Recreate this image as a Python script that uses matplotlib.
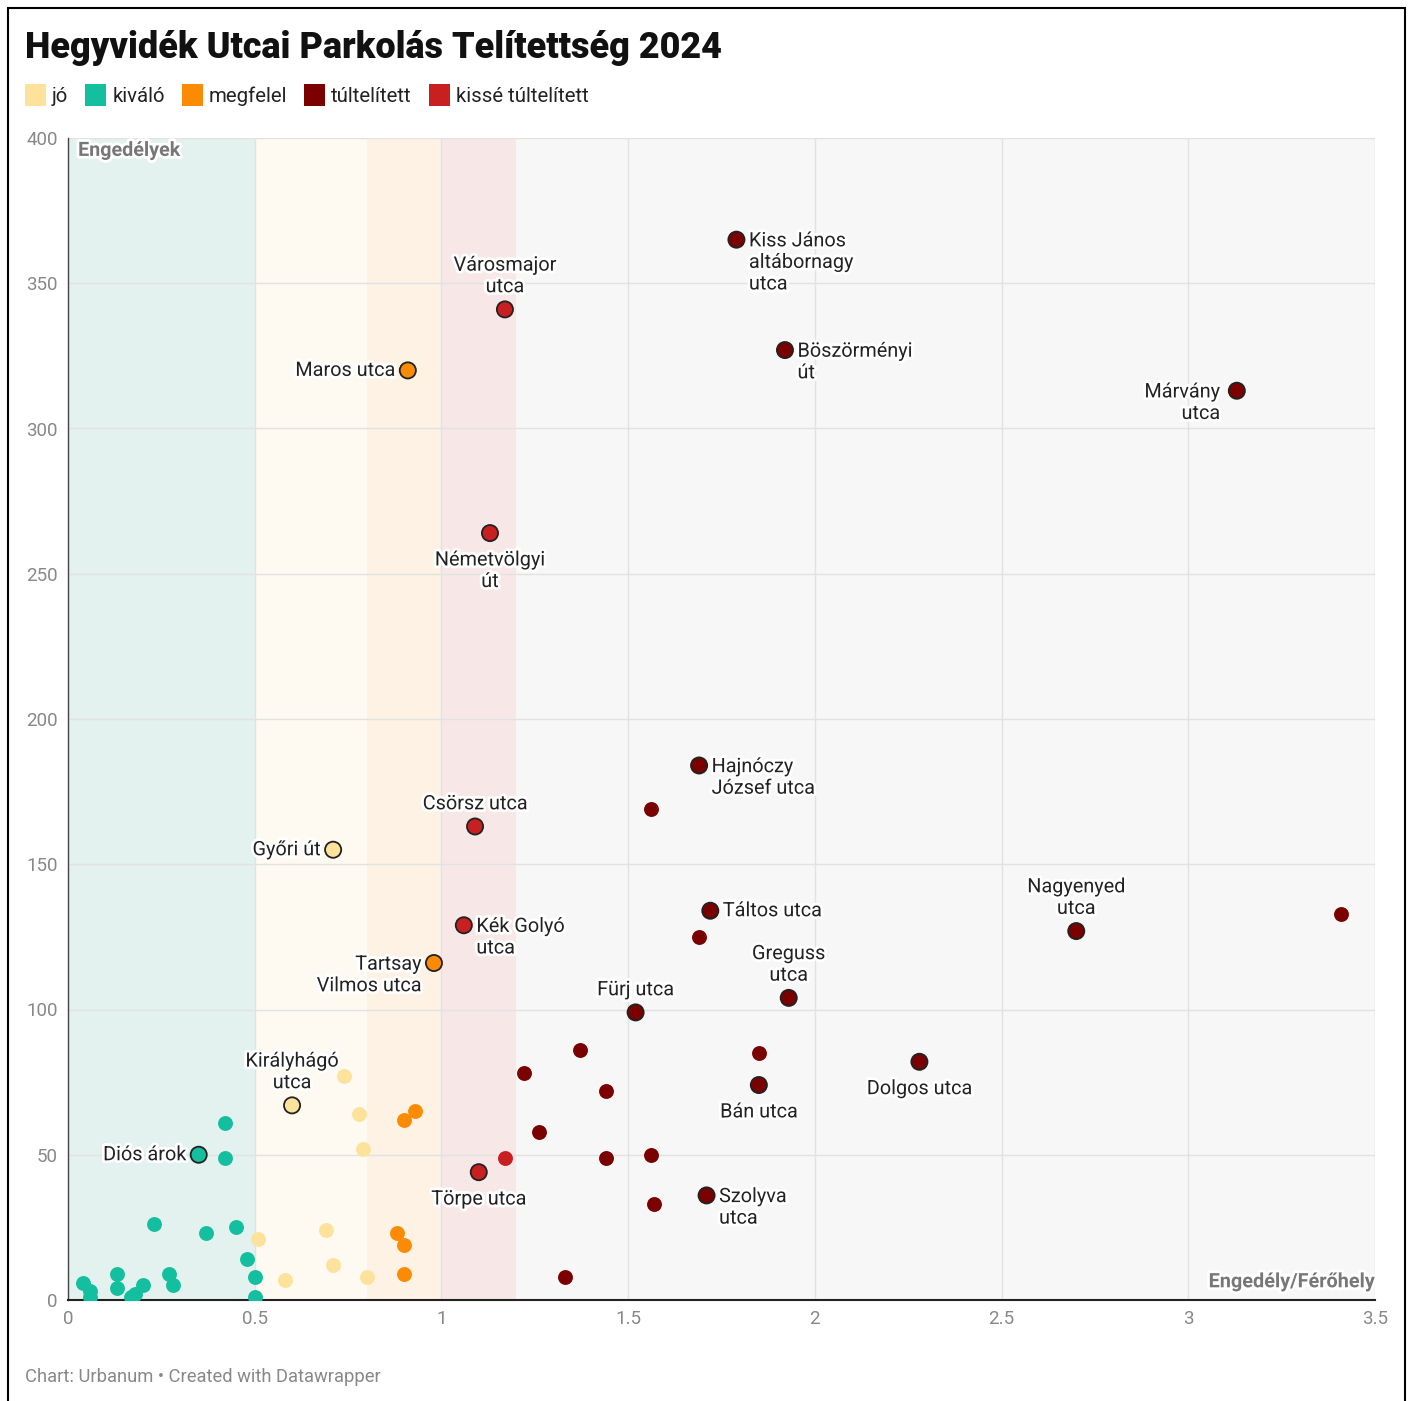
import matplotlib; matplotlib.use("Agg")
import matplotlib.pyplot as plt
import matplotlib.patheffects as pe
from matplotlib.patches import Rectangle
from matplotlib.ticker import FuncFormatter

plt.rcParams["font.family"] = ["Roboto", "DejaVu Sans"]

# categories (legend order)
CATS = ["jó", "kiváló", "megfelel", "túltelített", "kissé túltelített"]
COLORS = {"jó": "#fde29b", "kiváló": "#14bf9f", "megfelel": "#fb8b05",
          "túltelített": "#7b0000", "kissé túltelített": "#c81f20"}

# category zones along x (Engedély/Férőhely)
zone_edges = [0, 0.5, 0.8, 1.0, 1.2, 3.5]
zone_colors = ["#e3f2ef", "#fefaf1", "#fdf2e4", "#f8e7e7", "#f7f7f7"]

# labelled streets
named = ["Kiss János\naltábornagy\nutca", "Városmajor\nutca", "Böszörményi\nút",
         "Márvány\nutca", "Maros utca", "Németvölgyi\nút", "Hajnóczy\nJózsef utca",
         "Csörsz utca", "Győri út", "Táltos utca", "Nagyenyed\nutca",
         "Kék Golyó\nutca", "Tartsay\nVilmos utca", "Greguss\nutca", "Fürj utca",
         "Dolgos utca", "Bán utca", "Királyhágó\nutca", "Diós árok", "Törpe utca",
         "Szolyva\nutca"]
named_x = [1.79, 1.17, 1.92, 3.13, 0.91, 1.13, 1.69, 1.09, 0.71, 1.72, 2.70,
           1.06, 0.98, 1.93, 1.52, 2.28, 1.85, 0.60, 0.35, 1.10, 1.71]
named_y = [365, 341, 327, 313, 320, 264, 184, 163, 155, 134, 127,
           129, 116, 104, 99, 82, 74, 67, 50, 44, 36]
named_cat = ["túltelített", "kissé túltelített", "túltelített", "túltelített",
             "megfelel", "kissé túltelített", "túltelített", "kissé túltelített",
             "jó", "túltelített", "túltelített", "kissé túltelített", "megfelel",
             "túltelített", "túltelített", "túltelített", "túltelített", "jó",
             "kiváló", "kissé túltelített", "túltelített"]

# unlabelled streets
jo_x = [0.74, 0.78, 0.79, 0.69, 0.51, 0.71, 0.58, 0.80]
jo_y = [77, 64, 52, 24, 21, 12, 7, 8]
kivalo_x = [0.42, 0.42, 0.23, 0.37, 0.45, 0.48, 0.50, 0.50, 0.04, 0.06, 0.06,
            0.13, 0.13, 0.20, 0.18, 0.17, 0.27, 0.28]
kivalo_y = [61, 49, 26, 23, 25, 14, 8, 1, 6, 3, 1, 9, 4, 5, 2, 1, 9, 5]
megfelel_x = [0.93, 0.90, 0.88, 0.90, 0.90]
megfelel_y = [65, 62, 23, 19, 9]
tult_x = [1.56, 3.41, 1.69, 1.37, 1.22, 1.85, 1.44, 1.26, 1.44, 1.56, 1.57, 1.33]
tult_y = [169, 133, 125, 86, 78, 85, 72, 58, 49, 50, 33, 8]
kisse_x = [1.17]
kisse_y = [49]

# label placement (style only)
place = {"Kiss János\naltábornagy\nutca": "right", "Városmajor\nutca": "above",
         "Böszörményi\nút": "right", "Márvány\nutca": "left", "Maros utca": "left",
         "Németvölgyi\nút": "below", "Hajnóczy\nJózsef utca": "right",
         "Csörsz utca": "above", "Győri út": "left", "Táltos utca": "right",
         "Nagyenyed\nutca": "above", "Kék Golyó\nutca": "right",
         "Tartsay\nVilmos utca": "left", "Greguss\nutca": "above", "Fürj utca": "above",
         "Dolgos utca": "below", "Bán utca": "below", "Királyhágó\nutca": "above",
         "Diós árok": "left", "Törpe utca": "below", "Szolyva\nutca": "right"}

W, H = 1410, 1401
fig = plt.figure(figsize=(W / 100, H / 100), dpi=100)
ax = fig.add_axes([68 / W, 1 - 1300 / H, 1307 / W, 1162 / H])

for i, c in enumerate(zone_colors):
    ax.axvspan(zone_edges[i], zone_edges[i + 1], color=c, lw=0, zorder=0)

halo = [pe.withStroke(linewidth=4, foreground="white")]

groups = [(jo_x, jo_y, "jó"), (kivalo_x, kivalo_y, "kiváló"),
          (megfelel_x, megfelel_y, "megfelel"), (tult_x, tult_y, "túltelített"),
          (kisse_x, kisse_y, "kissé túltelített")]
for gx, gy, cat in groups:
    ax.scatter(gx, gy, s=115, color=COLORS[cat], lw=0, zorder=3)

ax.scatter(named_x, named_y, s=135, c=[COLORS[c] for c in named_cat],
           edgecolors="#222222", linewidths=1.3, zorder=4)

for name, x, y in zip(named, named_x, named_y):
    p = place[name]
    multi = "\n" in name
    kw = dict(fontsize=14.3, color="#222222", path_effects=halo, zorder=5,
              textcoords="offset points", linespacing=1.17)
    if p == "right":
        ax.annotate(name, (x, y), xytext=(9, 6 if multi else 0), ha="left",
                    va="top" if multi else "center", multialignment="left", **kw)
    elif p == "left":
        dx = -12 if name.startswith("Márvány") else -9
        ax.annotate(name, (x, y), xytext=(dx, 6 if multi else 0), ha="right",
                    va="top" if multi else "center", multialignment="right", **kw)
    elif p == "above":
        ax.annotate(name, (x, y), xytext=(0, 9.5), ha="center", va="bottom",
                    multialignment="center", **kw)
    else:
        ax.annotate(name, (x, y), xytext=(0, -12.5), ha="center", va="top",
                    multialignment="center", **kw)

ax.set_xlim(0, 3.5)
ax.set_ylim(0, 400)
ax.set_xticks([0, 0.5, 1, 1.5, 2, 2.5, 3, 3.5])
ax.set_yticks(range(0, 401, 50))
ax.xaxis.set_major_formatter(FuncFormatter(lambda v, _: f"{v:g}"))
ax.grid(color="#e2e2e2", lw=1)
ax.set_axisbelow(True)
ax.tick_params(length=0, labelsize=13.5, labelcolor="#888888", pad=7.5)
for s in ["top", "right"]:
    ax.spines[s].set_visible(False)
ax.spines["bottom"].set_color("#222222"); ax.spines["bottom"].set_linewidth(1.5)
ax.spines["left"].set_color("#444444"); ax.spines["left"].set_linewidth(1)

ax.text(0.027, 399, "Engedélyek", fontsize=14.2, fontweight="bold", color="#777777",
        va="top", ha="left", path_effects=halo, zorder=6)
ax.text(3.5, 3, "Engedély/Férőhely", fontsize=14.3, fontweight="bold", color="#777777",
        ha="right", va="bottom", path_effects=halo, zorder=6)

# title, legend, footer
fig.text(25 / W, 1 - 58 / H, "Hegyvidék Utcai Parkolás Telítettség 2024",
         fontsize=25.9, fontweight=900, color="#111111", va="baseline")

fig.canvas.draw()
r = fig.canvas.get_renderer()
lx = 25
for cat in CATS:
    fig.add_artist(Rectangle((lx / W, 1 - 106 / H), 21 / W, 22 / H,
                             transform=fig.transFigure, color=COLORS[cat], lw=0))
    t = fig.text((lx + 27) / W, 1 - 96 / H, cat, fontsize=14.7, color="#222222", va="center")
    bb = t.get_window_extent(r)
    lx = bb.x1 + 17

fig.text(25 / W, 1 - 1377 / H, "Chart: Urbanum • Created with Datawrapper",
         fontsize=13.2, color="#888888", va="center")

fig.add_artist(Rectangle((8 / W, -0.01), 1397 / W, 1 - 8 / H + 0.01,
                         transform=fig.transFigure, fill=False, ec="black", lw=1.5))

fig.savefig("out.png", dpi=100, facecolor="white")
